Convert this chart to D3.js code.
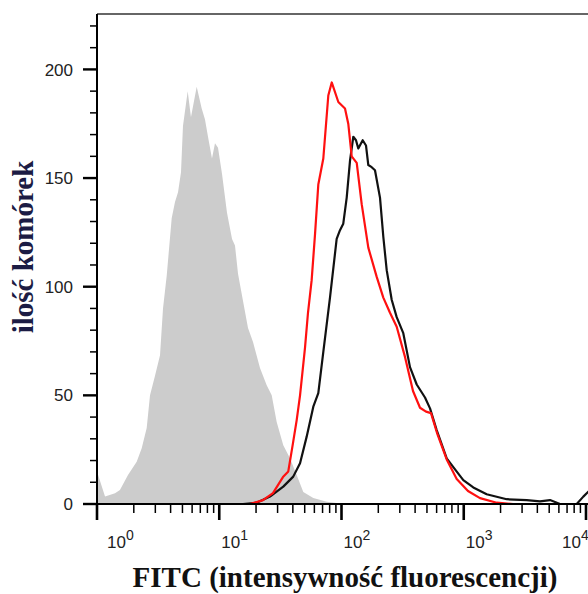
<!DOCTYPE html>
<html>
<head>
<meta charset="utf-8">
<script src="https://cdn.jsdelivr.net/npm/d3@7"></script>
<style>
  html, body { margin: 0; padding: 0; background: #fff; }
  svg { display: block; }
</style>
</head>
<body>
<svg id="chart" width="588" height="594"></svg>
<script>
// ---- data (FITC intensity, cell count) ----
const controlData = [
  [1.0,15],[1.163,3.4],[1.404,5],[1.54,6.4],[1.793,13.3],[2.112,19.5],[2.321,25.7],[2.55,35],
  [2.714,50],[2.982,59],[3.277,68.5],[3.467,90],[3.717,105],[4.083,131.5],[4.345,139],[4.6,143.5],
  [4.866,152.7],[5.05,174],[5.52,190],[5.87,178],[6.54,192],[7.185,182],[7.645,177],[8.09,169],
  [8.72,159],[9.23,166],[9.77,164],[10.53,152],[11.57,134],[12.72,122],[13.45,119],[14.24,106],
  [15.35,96],[17.19,81],[18.89,74.5],[21.54,62.6],[24.44,54.7],[26.86,50],[29.5,37.7],[33.4,27],
  [37.9,21],[43.0,13.3],[48.7,5.5],[58.8,2.8],[75.7,1],[106.8,0]
];
const redData = [
  [1.0,0],[17.84,0],[22.8,1.8],[27.5,5],[33.2,12.4],[36.7,15],[40.1,28],[43.0,38.6],[45.8,50],
  [50.3,72],[53.2,88],[57.0,103],[60.7,124],[64.6,147],[71.0,159],[78.0,188],[83.2,194],[94.2,185],
  [106.8,182],[113.6,175],[121.2,160],[133.2,157],[146.3,138],[165.7,118],[194.1,104.5],[219.8,95],
  [249.3,88],[282.8,81.6],[330.7,67.7],[384.5,52],[438.7,44.3],[491.2,42.5],[539.8,41.8],[610,32],
  [725.3,20.5],[875.8,11.5],[1083,6],[1358,2.7],[1860,0.6],[2528,0],[10000,0]
];
const blackData = [
  [1.0,0],[15.64,0],[20.24,0.6],[26.0,3.4],[33.4,8],[40.3,12.6],[45.8,18.8],[51.9,31],[58.8,44.8],
  [64.6,51],[71.0,70],[80.5,95],[91.3,122],[97.2,126],[103.4,129],[110.3,141],[117.4,158],[124.9,169],
  [131.4,167.4],[137.2,163.6],[149.1,167.4],[158.6,165],[165.7,156],[176.6,155],[187.9,153.6],
  [206.5,141],[219.8,123],[234.3,107.6],[257.4,94],[282.8,86],[320.2,78.6],[363.3,63],[412.3,55],
  [482,49],[529.7,44],[600.6,34],[725.3,21],[821.4,17],[991.5,11],[1197,7.6],[1540,4.5],[2245,2.2],
  [3273,1.8],[4204,1.2],[5077,1.8],[6129,0],[8395,0],[9507,3.4],[10385,5.5],[12000,9]
];
const yMajorTicks = [0, 50, 100, 150, 200];
const yMinorTicks = [10,20,30,40,60,70,80,90,110,120,130,140,160,170,180,190,210,220];
const xDecades = [1, 10, 100, 1000, 10000];
const xExponents = ["0", "1", "2", "3", "4"];
const xTitle = "FITC (intensywność fluorescencji)";
const yTitle = "ilość komórek";

// ---- layout ----
const svg = d3.select("#chart");
const pLeft = 97, pRight = 586, pTop = 14, pBottom = 504;

const x = d3.scaleLog().domain([1, 10000]).range([pLeft, pRight]);
const y = d3.scaleLinear().domain([0, 225.5]).range([pBottom, pTop]);

const defs = svg.append("defs");
defs.append("clipPath").attr("id", "plotclip")
  .append("rect").attr("x", pLeft).attr("y", pTop).attr("width", 588 - pLeft).attr("height", pBottom - pTop + 2);

const plot = svg.append("g").attr("clip-path", "url(#plotclip)");

// gray control histogram
plot.append("path")
  .datum(controlData)
  .attr("fill", "#cccccc")
  .attr("d", d3.area().x(d => x(d[0])).y0(y(0)).y1(d => y(d[1])));

// black histogram
plot.append("path")
  .datum(blackData)
  .attr("fill", "none")
  .attr("stroke", "#111")
  .attr("stroke-width", 2.2)
  .attr("stroke-linejoin", "round")
  .attr("d", d3.line().x(d => x(d[0])).y(d => y(d[1])));

// red histogram
plot.append("path")
  .datum(redData)
  .attr("fill", "none")
  .attr("stroke", "#ff1010")
  .attr("stroke-width", 2.2)
  .attr("stroke-linejoin", "round")
  .attr("d", d3.line().x(d => x(d[0])).y(d => y(d[1])));

// ---- frame ----
svg.append("line").attr("x1", pLeft).attr("x2", 588).attr("y1", pTop).attr("y2", pTop)
  .attr("stroke", "#333").attr("stroke-width", 1.6);

// ---- y axis ----
const yAxisG = svg.append("g");
yAxisG.append("line").attr("x1", pLeft).attr("x2", pLeft).attr("y1", pTop).attr("y2", pBottom + 16)
  .attr("stroke", "#000").attr("stroke-width", 2);
yAxisG.selectAll("line.ymaj").data(yMajorTicks).join("line").attr("class", "ymaj")
  .attr("x1", pLeft - 14).attr("x2", pLeft).attr("y1", d => y(d)).attr("y2", d => y(d))
  .attr("stroke", "#000").attr("stroke-width", 2.4);
yAxisG.selectAll("line.ymin").data(yMinorTicks).join("line").attr("class", "ymin")
  .attr("x1", pLeft - 7).attr("x2", pLeft).attr("y1", d => y(d)).attr("y2", d => y(d))
  .attr("stroke", "#000").attr("stroke-width", 1.5);
yAxisG.selectAll("text").data(yMajorTicks).join("text")
  .attr("x", pLeft - 24).attr("y", d => y(d)).attr("dy", "0.36em")
  .attr("text-anchor", "end")
  .attr("font-family", "'Liberation Sans', Arial, sans-serif")
  .attr("font-size", 17).attr("fill", "#222")
  .text(d => d);

// ---- x axis ----
const xAxisG = svg.append("g");
xAxisG.append("line").attr("x1", pLeft).attr("x2", 588).attr("y1", pBottom).attr("y2", pBottom)
  .attr("stroke", "#000").attr("stroke-width", 2);
const minorX = [];
xDecades.slice(0, -1).forEach(d => { for (let k = 2; k <= 9; k++) minorX.push(d * k); });
xAxisG.selectAll("line.xmin").data(minorX).join("line").attr("class", "xmin")
  .attr("x1", d => x(d)).attr("x2", d => x(d)).attr("y1", pBottom).attr("y2", pBottom + 9)
  .attr("stroke", "#000").attr("stroke-width", 1.5);
xAxisG.selectAll("line.xmaj").data(xDecades).join("line").attr("class", "xmaj")
  .attr("x1", d => x(d)).attr("x2", d => x(d)).attr("y1", pBottom).attr("y2", pBottom + 16)
  .attr("stroke", "#000").attr("stroke-width", 2.6);
const xl = xAxisG.selectAll("text").data(xDecades).join("text")
  .attr("x", d => Math.max(107, Math.min(562, x(d) + 2)))
  .attr("y", 548)
  .attr("font-family", "'Liberation Sans', Arial, sans-serif")
  .attr("font-size", 17).attr("fill", "#222");
xl.append("tspan").text("10");
xl.append("tspan").attr("dy", -8).attr("font-size", 14).text((d, i) => xExponents[i]);

// ---- titles ----
svg.append("text")
  .attr("x", 345).attr("y", 587)
  .attr("text-anchor", "middle")
  .attr("font-family", "'Liberation Serif', 'Times New Roman', serif")
  .attr("font-weight", "bold").attr("font-size", 29).attr("fill", "#111")
  .text(xTitle);

svg.append("text")
  .attr("transform", "translate(33,247) rotate(-90)")
  .attr("text-anchor", "middle")
  .attr("font-family", "'Liberation Serif', 'Times New Roman', serif")
  .attr("font-weight", "bold").attr("font-size", 29).attr("fill", "#1c1c44")
  .text(yTitle);
</script>
</body>
</html>
